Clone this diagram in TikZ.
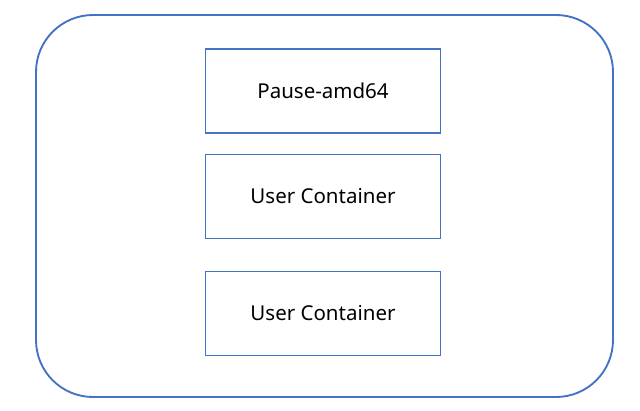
\documentclass[tikz,border=0pt]{standalone}
\usepackage{fontspec}
\setmainfont{Noto Sans}
\definecolor{podblue}{HTML}{4472C4}
\tikzset{
    ctrbox/.style={draw=podblue, line width=1.6pt, minimum width=235*0.03cm, minimum height=84*0.03cm, inner sep=0pt, font=\fontsize{17.5}{21}\selectfont}
}
\begin{document}
\begin{tikzpicture}[x=0.03cm, y=-0.03cm, thick]
    \useasboundingbox (0,0) rectangle (640,410);
    % pod
    \draw[podblue, line width=1.6pt, rounded corners=57*0.03cm] (36,15) rectangle (613,397);
    % containers
    \node[ctrbox] (pause) at (323,91) {Pause-amd64};
    \node[ctrbox] (user1) at (323,196.5) {User Container};
    \node[ctrbox] (user2) at (323,313.5) {User Container};
\end{tikzpicture}
\end{document}
